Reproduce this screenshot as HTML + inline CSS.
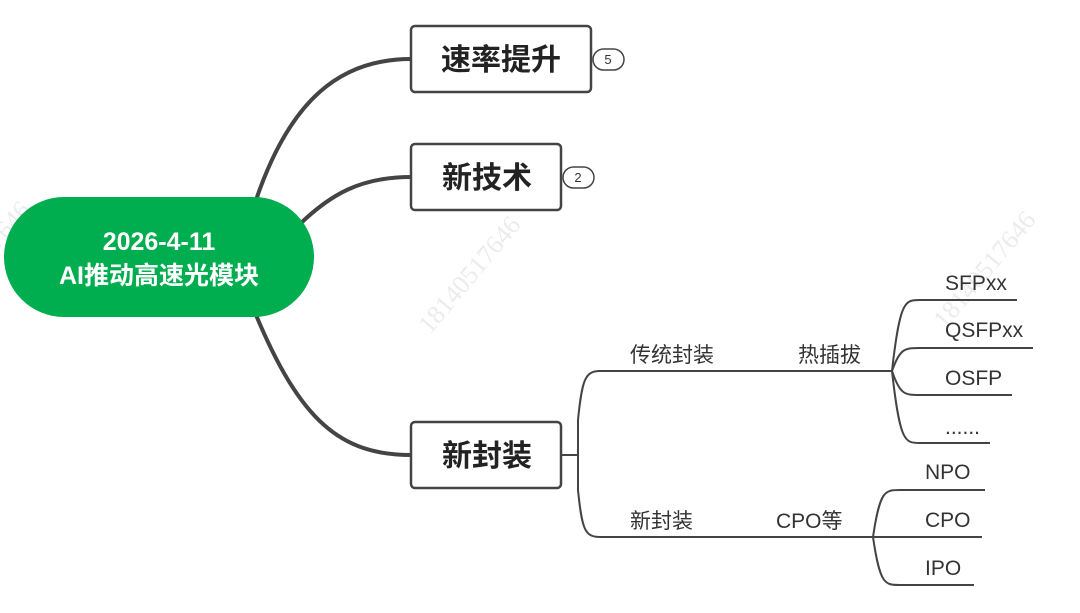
<!DOCTYPE html>
<html><head><meta charset="utf-8"><style>
body{margin:0;background:#fff;}
svg text{font-family:"Liberation Sans","Noto Sans CJK SC",sans-serif;}
</style></head><body>
<svg width="1080" height="608" viewBox="0 0 1080 608" xmlns="http://www.w3.org/2000/svg">
<g fill="#ececec" font-size="26">
<text transform="translate(430,335) rotate(-50)" style="font-family:'Liberation Serif',serif">18140517646</text>
<text transform="translate(945,330) rotate(-50)" style="font-family:'Liberation Serif',serif">18140517646</text>
<text transform="translate(-60,320) rotate(-50)" style="font-family:'Liberation Serif',serif">18140517646</text>
</g>
<g fill="none" stroke="#444" stroke-width="4" stroke-linecap="round">
<path d="M256,200 C290,100 340,59 411,59"/>
<path d="M300,224 C330,195 360,177 411,177"/>
<path d="M256,315 C300,420 340,455 411,455"/>
</g>
<g fill="none" stroke="#444" stroke-width="2">
<path d="M561,455 H578"/>
<path d="M600,371 C585,371 582,380 578,420 L578,455 L578,490 C582,530 585,537 600,537"/>
<path d="M600,371 H892"/>
<path d="M600,537 H873"/>
<path d="M892,371 C900,300 905,300 920,300 H1017"/>
<path d="M892,371 C900,348 905,348 920,348 H1033"/>
<path d="M892,371 C900,395 905,395 920,395 H1012"/>
<path d="M892,371 C900,443 905,443 920,443 H990"/>
<path d="M873,537 C880,490 885,490 900,490 H985"/>
<path d="M873,537 H982"/>
<path d="M873,537 C880,585 885,585 900,585 H974"/>
</g>
<rect x="4" y="197" width="310" height="120" rx="60" fill="#00ad4f"/>
<text x="159" y="250" fill="#fff" font-size="25" font-weight="bold" text-anchor="middle">2026-4-11</text>
<text x="159" y="284" fill="#fff" font-size="25" font-weight="bold" text-anchor="middle">AI推动高速光模块</text>
<g fill="#fff" stroke="#444" stroke-width="2.5">
<rect x="411" y="26" width="180" height="66" rx="4"/>
<rect x="411" y="144" width="150" height="66" rx="4"/>
<rect x="411" y="422" width="150" height="66" rx="4"/>
<rect x="593" y="49" width="31" height="21" rx="10.5" stroke-width="1.5"/>
<rect x="563" y="167" width="31" height="21" rx="10.5" stroke-width="1.5"/>
</g>
<g fill="#222" font-size="30" font-weight="bold" text-anchor="middle">
<text x="501" y="70">速率提升</text>
<text x="487" y="188">新技术</text>
<text x="487" y="466">新封装</text>
</g>
<g fill="#333" font-size="13" text-anchor="middle">
<text x="608" y="64">5</text>
<text x="578" y="182">2</text>
</g>
<g fill="#333" font-size="21">
<text x="630" y="362">传统封装</text>
<text x="798" y="362">热插拔</text>
<text x="630" y="528">新封装</text>
<text x="776" y="528">CPO等</text>
<text x="945" y="290">SFPxx</text>
<text x="945" y="337">QSFPxx</text>
<text x="945" y="385">OSFP</text>
<text x="945" y="434">......</text>
<text x="925" y="479">NPO</text>
<text x="925" y="527">CPO</text>
<text x="925" y="575">IPO</text>
</g>
</svg>
</body></html>
